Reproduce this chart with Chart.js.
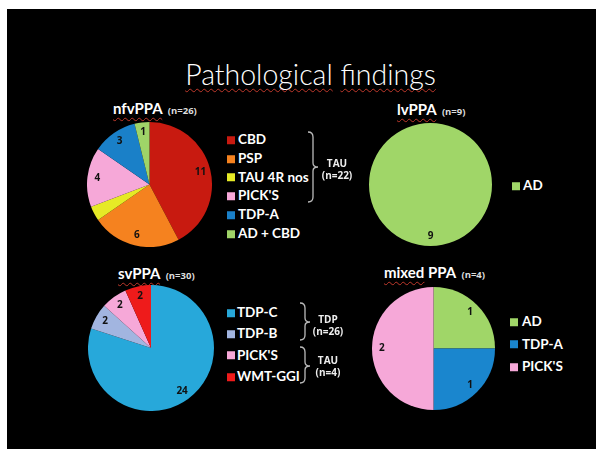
<!DOCTYPE html>
<html>
<head>
<meta charset="utf-8">
<script src="https://cdn.jsdelivr.net/npm/chart.js@4.4.1/dist/chart.umd.min.js"></script>
<style>
  html, body { margin: 0; padding: 0; background: #fff; width: 596px; height: 449px; overflow: hidden; }
  #slide { position: absolute; left: 7px; top: 9px; width: 589px; height: 440px; background: #000; }
  canvas { position: absolute; }
  .txt { position: absolute; white-space: nowrap; color: #fff; font-family: Lato, "Open Sans", sans-serif; line-height: 1; transform: translateY(-50%); }
  .spell { text-decoration: underline wavy #c0392b; text-decoration-thickness: 1px; text-underline-offset: 3px; text-decoration-skip-ink: none; }
  .title { font-size: 28.5px; font-weight: 300; transform: translate(-50%, -50%); }
  .sub { font-size: 15px; font-weight: 700; }
  .sub small { font-family: "Open Sans", sans-serif; font-size: 9.5px; color: #ddd; font-weight: 700; margin-left: 2px; }
  .leg { font-size: 13.5px; font-weight: 700; display: flex; align-items: center; }
  .leg i { display: inline-block; width: 8px; height: 8px; }
  .group { font-family: "Open Sans", sans-serif; font-size: 10px; font-weight: 700; line-height: 1.2; text-align: center; transform: translate(-50%, -50%); color: #eee; }
  svg { position: absolute; left: 0; top: 0; }
</style>
</head>
<body>
<div id="slide"></div>

<script>
// Pathology counts for each PPA variant
const nfvLabels = ['CBD', 'PSP', 'TAU 4R nos', "PICK'S", 'TDP-A', 'AD + CBD'];
const nfvValues = [11, 6, 1, 4, 3, 1];

const lvLabels = ['AD'];
const lvValues = [9];

const svLabels = ['TDP-C', 'TDP-B', "PICK'S", 'WMT-GGI'];
const svValues = [24, 2, 2, 2];

const mixedLabels = ['AD', 'TDP-A', "PICK'S"];
const mixedValues = [1, 1, 2];

// Slice colours per pathology
const nfvColors = ['#c81a10', '#f5821f', '#e6ea26', '#f6a8d8', '#1a80c8', '#9fd468'];
const lvColors = ['#a0d668'];
const svColors = ['#27a8da', '#a2b5e0', '#f6a8d8', '#ee1b1b'];
const mixedColors = ['#a0d668', '#1a86ce', '#f6a8d8'];

// Writes each slice's count near its outer edge (the thin yellow slice carries no count)
const sliceValues = {
  id: 'sliceValues',
  afterDatasetsDraw(chart, args, opts) {
    const ctx = chart.ctx;
    const meta = chart.getDatasetMeta(0);
    const vals = chart.data.datasets[0].data;
    const skip = opts.skip || [];
    ctx.save();
    ctx.font = 'bold 10px "Open Sans", sans-serif';
    ctx.fillStyle = '#111';
    ctx.textAlign = 'center';
    ctx.textBaseline = 'middle';
    meta.data.forEach((arc, i) => {
      if (skip.includes(i)) return;
      const p = arc.getProps(['x', 'y', 'startAngle', 'endAngle', 'outerRadius'], true);
      const mid = (p.startAngle + p.endAngle) / 2;
      const r = p.outerRadius * 0.84;
      ctx.fillText(String(vals[i]), p.x + Math.cos(mid) * r, p.y + Math.sin(mid) * r);
    });
    ctx.restore();
  }
};

function makePie(labels, values, colors, cx, cy, r, skip) {
  const cv = document.createElement('canvas');
  const size = Math.round(r * 2);
  cv.width = size;
  cv.height = size;
  cv.style.left = (cx - size / 2) + 'px';
  cv.style.top = (cy - size / 2) + 'px';
  document.body.appendChild(cv);
  return new Chart(cv, {
    type: 'pie',
    data: {
      labels: labels,
      datasets: [{ data: values, backgroundColor: colors, borderWidth: 0, hoverBorderWidth: 0, hoverOffset: 0 }]
    },
    options: {
      responsive: false,
      animation: false,
      events: [],
      layout: { padding: 0 },
      plugins: { legend: { display: false }, tooltip: { enabled: false }, sliceValues: { skip: skip || [] } }
    },
    plugins: [sliceValues]
  });
}

function addText(cls, html, x, y) {
  const d = document.createElement('div');
  d.className = 'txt ' + cls;
  d.innerHTML = html;
  d.style.left = x + 'px';
  d.style.top = y + 'px';
  document.body.appendChild(d);
  return d;
}

// Legend built from the chart's own labels and colours
function addLegend(chart, x, y0, step, gap) {
  const ds = chart.data.datasets[0];
  chart.data.labels.forEach((lab, i) => {
    addText('leg', '<i style="background:' + ds.backgroundColor[i] + ';margin-right:' + gap + 'px"></i>' + lab, x, y0 + i * step);
  });
}

// Curly brackets grouping the legend entries
const NS = 'http://www.w3.org/2000/svg';
function brace(svg, x, y1, y2, ym) {
  const p = document.createElementNS(NS, 'path');
  p.setAttribute('d',
    'M' + (x - 5) + ' ' + y1 + ' Q' + x + ' ' + y1 + ' ' + x + ' ' + (y1 + 5) +
    ' L' + x + ' ' + (ym - 4) + ' Q' + x + ' ' + ym + ' ' + (x + 5) + ' ' + ym +
    ' Q' + x + ' ' + ym + ' ' + x + ' ' + (ym + 4) +
    ' L' + x + ' ' + (y2 - 5) + ' Q' + x + ' ' + y2 + ' ' + (x - 5) + ' ' + y2);
  p.setAttribute('fill', 'none');
  p.setAttribute('stroke', '#bbb');
  p.setAttribute('stroke-width', '1.3');
  svg.appendChild(p);
}

function build() {
  // Title and panel headings
  addText('title', '<span class="spell">Pathological</span> <span class="spell">findings</span>', 310.5, 74);
  addText('sub', '<span class="spell">nfvPPA</span> <small>(n=26)</small>', 113, 108);
  addText('sub', '<span class="spell">lvPPA</span> <small>(n=9)</small>', 397, 109);
  addText('sub', '<span class="spell">svPPA</span> <small>(n=30)</small>', 118, 273);
  addText('sub', '<span class="spell">mixed</span> PPA <small>(n=4)</small>', 384, 272);

  const nfvChart = makePie(nfvLabels, nfvValues, nfvColors, 149.5, 184.5, 62.5, [2]);
  const lvChart = makePie(lvLabels, lvValues, lvColors, 430.5, 184.5, 61.5);
  const svChart = makePie(svLabels, svValues, svColors, 151, 347.5, 63);
  const mixedChart = makePie(mixedLabels, mixedValues, mixedColors, 433.5, 348, 61.5);

  addLegend(nfvChart, 227, 140, 18.8, 3);
  addLegend(lvChart, 512, 186, 20, 3);
  addLegend(svChart, 227, 313, 21.3, 2);
  addLegend(mixedChart, 510, 322, 22.5, 4);

  const svg = document.createElementNS(NS, 'svg');
  svg.setAttribute('width', 596);
  svg.setAttribute('height', 449);
  document.body.appendChild(svg);
  brace(svg, 313, 132, 202, 167);
  brace(svg, 305, 303, 340, 322);
  brace(svg, 305, 347, 383, 366);

  addText('group', 'TAU<br>(n=22)', 337, 169);
  addText('group', 'TDP<br>(n=26)', 328, 325);
  addText('group', 'TAU<br>(n=4)', 328, 366);
}

Promise.all([
  document.fonts.load('bold 10px "Open Sans"'),
  document.fonts.load('bold 15px Lato'),
  document.fonts.load('300 28px Lato')
]).then(build, build);
</script>
</body>
</html>
